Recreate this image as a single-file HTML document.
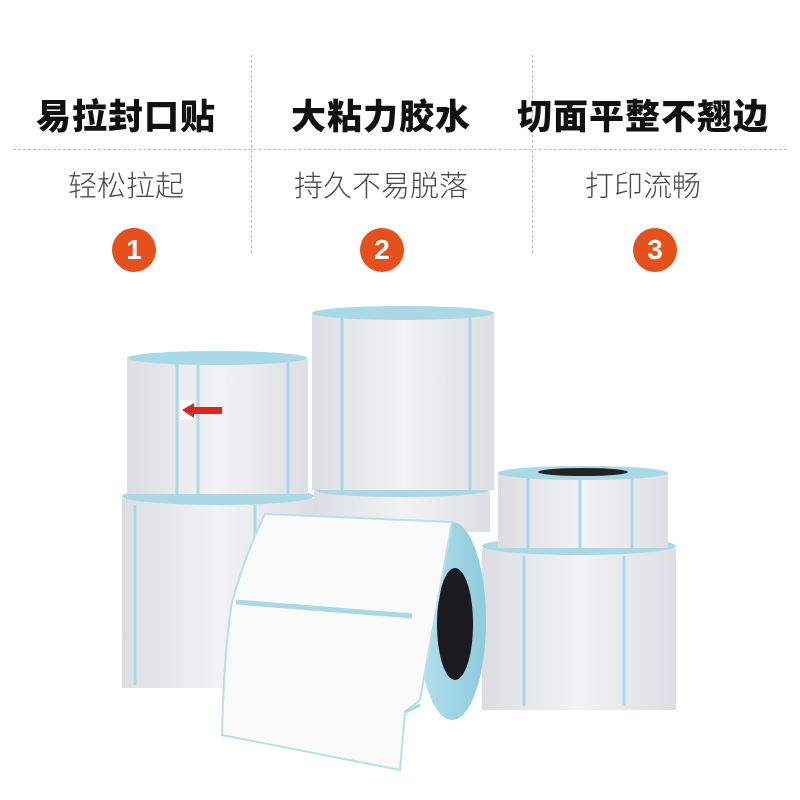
<!DOCTYPE html>
<html><head><meta charset="utf-8"><style>
html,body{margin:0;padding:0;background:#fff;}
body{width:800px;height:800px;position:relative;overflow:hidden;font-family:"Liberation Sans","Noto Sans CJK SC",sans-serif;}
.t{position:absolute;top:89px;width:266px;text-align:center;font-size:35px;font-weight:900;color:#111;letter-spacing:1px;}
.s{position:absolute;top:163px;width:266px;text-align:center;font-size:29px;font-weight:300;color:#4a4a4a;}
.c{position:absolute;top:228px;width:44px;height:44px;border-radius:50%;background:#e6501d;color:#fff;font-size:28px;font-weight:bold;text-align:center;line-height:44px;}
.vl{position:absolute;top:55px;height:198px;border-left:1px dashed #bbb;}
.hl{position:absolute;top:149px;left:13px;width:774px;border-top:1px dashed #bbb;}
svg{position:absolute;left:0;top:0;}
</style></head><body>
<div class="vl" style="left:251px"></div><div class="vl" style="left:532px"></div>
<div class="hl"></div>
<div class="t" style="left:-7px">易拉封口贴</div>
<div class="t" style="left:248px">大粘力胶水</div>
<div class="t" style="left:510px">切面平整不翘边</div>
<div class="s" style="left:-7px">轻松拉起</div>
<div class="s" style="left:248px">持久不易脱落</div>
<div class="s" style="left:510px">打印流畅</div>
<div class="c" style="left:112px">1</div>
<div class="c" style="left:360px">2</div>
<div class="c" style="left:633px">3</div>
<svg width="800" height="800">
<defs>
<linearGradient id="g" x1="0" x2="1"><stop offset="0" stop-color="#dcdde2"/><stop offset=".5" stop-color="#f3f3f5"/><stop offset="1" stop-color="#dddee3"/></linearGradient>
<linearGradient id="r" x1="0" x2="1"><stop offset="0" stop-color="#b5e0ec"/><stop offset="1" stop-color="#8ecbdc"/></linearGradient>
</defs>
<rect x="122" y="498" width="192" height="190" fill="url(#g)"/>
<ellipse cx="218" cy="496" rx="96" ry="9" fill="#a9d9e7"/>
<line x1="135" y1="505" x2="135" y2="685" stroke="#a9d9e7" stroke-width="3"/>
<line x1="255" y1="505" x2="255" y2="688" stroke="#a9d9e7" stroke-width="3"/>
<rect x="127" y="358" width="181" height="136" fill="url(#g)"/>
<ellipse cx="217" cy="358" rx="90" ry="7" fill="#a9d9e7"/>
<line x1="177" y1="360" x2="177" y2="494" stroke="#a9d9e7" stroke-width="3"/>
<line x1="198" y1="360" x2="198" y2="494" stroke="#a9d9e7" stroke-width="3"/>
<line x1="288" y1="360" x2="288" y2="494" stroke="#a9d9e7" stroke-width="3"/>
<rect x="180" y="400" width="15" height="20" fill="#fff"/>
<polygon points="182,410 194,403 194,407 222,407 222,414 194,414 194,418" fill="#d9271f"/>
<rect x="314" y="492" width="176" height="40" fill="url(#g)"/>
<ellipse cx="402" cy="490" rx="88" ry="7" fill="#a9d9e7"/>
<rect x="312" y="313" width="182" height="177" fill="url(#g)"/>
<ellipse cx="403" cy="313" rx="91" ry="7" fill="#a9d9e7"/>
<line x1="342" y1="316" x2="342" y2="490" stroke="#a9d9e7" stroke-width="3"/>
<line x1="470" y1="316" x2="470" y2="490" stroke="#a9d9e7" stroke-width="3"/>
<rect x="482" y="548" width="194" height="162" fill="url(#g)"/>
<ellipse cx="579" cy="546" rx="97" ry="9" fill="#a9d9e7"/>
<line x1="524" y1="556" x2="524" y2="706" stroke="#a9d9e7" stroke-width="3"/>
<line x1="624" y1="556" x2="624" y2="706" stroke="#a9d9e7" stroke-width="3"/>
<rect x="498" y="473" width="170" height="75" fill="url(#g)"/>
<ellipse cx="583" cy="473" rx="85" ry="7" fill="#a9d9e7"/>
<ellipse cx="583" cy="472" rx="45" ry="4" fill="#222"/>
<line x1="528" y1="476" x2="528" y2="548" stroke="#a9d9e7" stroke-width="3"/>
<line x1="580" y1="476" x2="580" y2="548" stroke="#a9d9e7" stroke-width="3"/>
<line x1="632" y1="476" x2="632" y2="548" stroke="#a9d9e7" stroke-width="3"/>
<ellipse cx="452" cy="621" rx="34" ry="99" fill="url(#r)"/>
<ellipse cx="455" cy="624" rx="18" ry="56" fill="#1a1a1f"/>
<path d="M265,514 L452,522 L420,700 L405,712 L400,770 L222,735 Q224,650 232,602 Q245,555 265,514 Z" fill="#fafafa" stroke="#b9e0ea" stroke-width="2"/>
<path d="M236,602 L412,616" stroke="#a9d9e7" stroke-width="5"/>
<path d="M405,712 L420,705" stroke="#a9d9e7" stroke-width="3"/>
</svg>
</body></html>
